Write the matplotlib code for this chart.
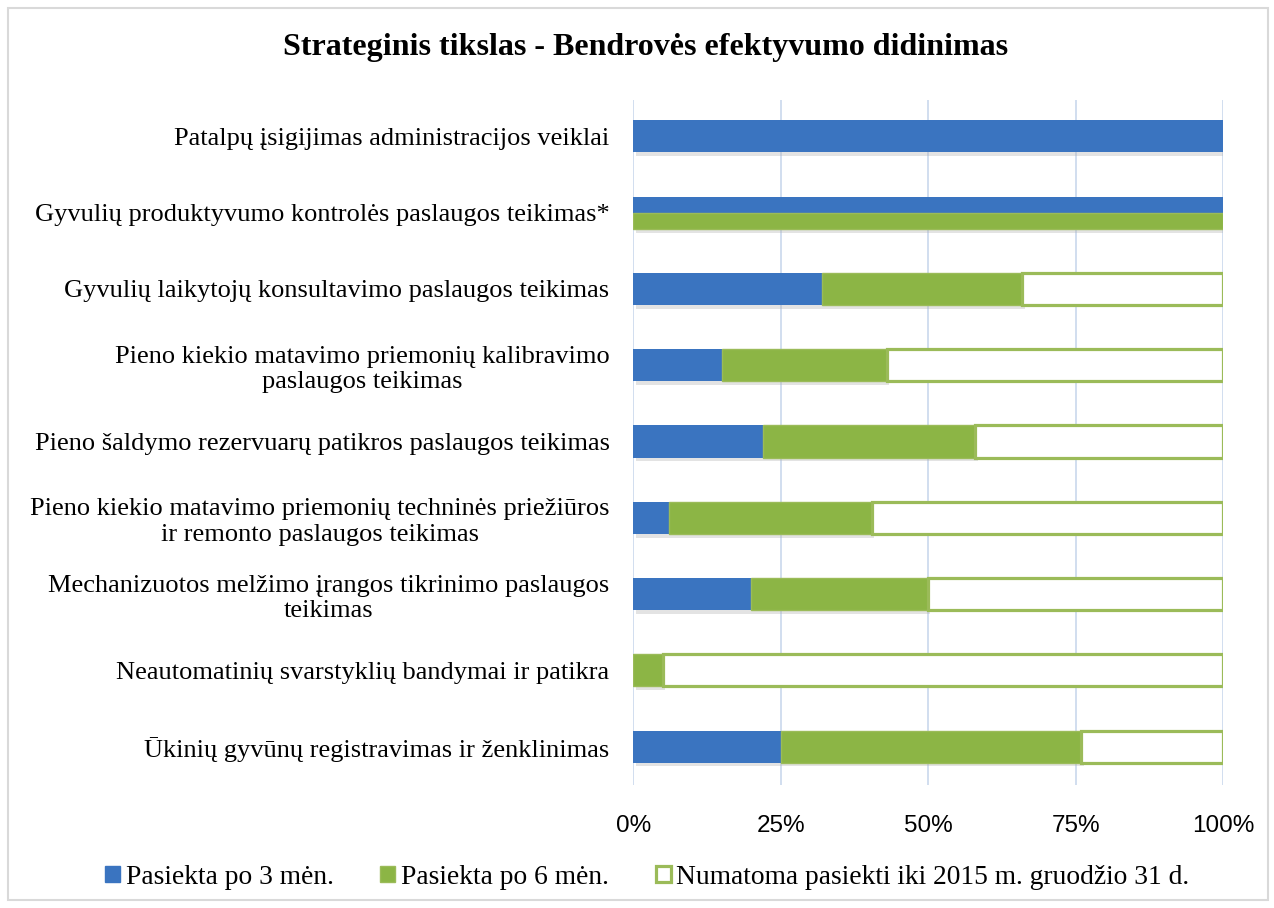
import matplotlib.pyplot as plt
from matplotlib.patches import Patch, Rectangle

# Categories, top to bottom
categories = [
    'Patalpų įsigijimas administracijos veiklai',
    'Gyvulių produktyvumo kontrolės paslaugos teikimas*',
    'Gyvulių laikytojų konsultavimo paslaugos teikimas',
    'Pieno kiekio matavimo priemonių kalibravimo\npaslaugos teikimas',
    'Pieno šaldymo rezervuarų patikros paslaugos teikimas',
    'Pieno kiekio matavimo priemonių techninės priežiūros\nir remonto paslaugos teikimas',
    'Mechanizuotos melžimo įrangos tikrinimo paslaugos\nteikimas',
    'Neautomatinių svarstyklių bandymai ir patikra',
    'Ūkinių gyvūnų registravimas ir ženklinimas',
]
# percent values per category
after_3 = [100, 100, 32, 15, 22, 6, 20, 0, 25]
after_6 = [0, 100, 34, 28, 36, 34.5, 30, 5, 51]
planned = [0, 0, 34, 57, 42, 59.5, 50, 95, 24]
split_row = 1  # this row shows both series as full separate bars

series_names = ['Pasiekta po 3 mėn.', 'Pasiekta po 6 mėn.',
                'Numatoma pasiekti iki 2015 m. gruodžio 31 d.']
xticks = [0, 25, 50, 75, 100]

blue = '#3a74c0'
green = '#8cb545'
green_edge = '#9bbb59'

plt.rcParams['font.family'] = ['Liberation Serif', 'DejaVu Serif']

fig = plt.figure(figsize=(12.74, 9.08), dpi=100)
ax = fig.add_axes([0.497, 0.135, 0.463, 0.755])

h = 0.42
for i in range(len(categories)):
    # soft drop shadow under filled part
    filled = max(after_3[i], after_6[i]) if i == split_row else after_3[i] + after_6[i]
    if filled > 0:
        ax.barh(i + 0.05, filled, left=0.4, height=h, color='#b0b0b0',
                alpha=0.35, zorder=1.5, linewidth=0)
    if i == split_row:
        ax.barh(i - h / 4, after_3[i], height=h / 2, color=blue, zorder=2)
        ax.barh(i + h / 4, after_6[i], height=h / 2, color=green,
                edgecolor=green_edge, linewidth=1, zorder=2)
        continue
    left = 0
    if after_3[i] > 0:
        ax.barh(i, after_3[i], left=left, height=h, color=blue, zorder=2)
        left += after_3[i]
    if after_6[i] > 0:
        ax.barh(i, after_6[i], left=left, height=h, color=green,
                edgecolor=green_edge, linewidth=1, zorder=2)
        left += after_6[i]
    if planned[i] > 0:
        ax.barh(i, planned[i], left=left, height=h, color='white',
                edgecolor=green_edge, linewidth=2.3, zorder=2)

ax.set_ylim(len(categories) - 0.5 + 0.01, -0.48)
ax.set_xlim(0, 100)
ax.set_yticks(range(len(categories)))
ax.set_yticklabels(categories, fontsize=19, multialignment='center')
for lbl in ax.get_yticklabels():
    lbl.set_linespacing(1.2)
ax.set_xticks(xticks)
ax.set_xticklabels([f'{t}%' for t in xticks], fontsize=17.5,
                   family=['Liberation Sans', 'DejaVu Sans'])
ax.tick_params(axis='both', length=0)
ax.tick_params(axis='y', pad=17)
ax.tick_params(axis='x', pad=21)
for s in ax.spines.values():
    s.set_visible(False)
ax.grid(axis='x', color='#c9d8ec', linewidth=1.2)
ax.set_axisbelow(True)

fig.text(0.507, 0.948, 'Strateginis tikslas - Bendrovės efektyvumo didinimas',
         ha='center', va='center', fontsize=23, fontweight='bold')

handles = [Patch(facecolor=blue, edgecolor=blue),
           Patch(facecolor=green, edgecolor=green_edge),
           Patch(facecolor='white', edgecolor=green_edge, linewidth=2.3)]
fig.legend(handles, series_names, loc='center', bbox_to_anchor=(0.508, 0.034),
           ncol=3, frameon=False, fontsize=19.8, handlelength=0.55,
           handleheight=0.55, handletextpad=0.2, columnspacing=1.7)

fig.patches.append(Rectangle((0.006, 0.009), 0.989, 0.982, transform=fig.transFigure,
                             fill=False, edgecolor='#d9d9d9', linewidth=1.5))

fig.savefig('out.png', dpi=100)
